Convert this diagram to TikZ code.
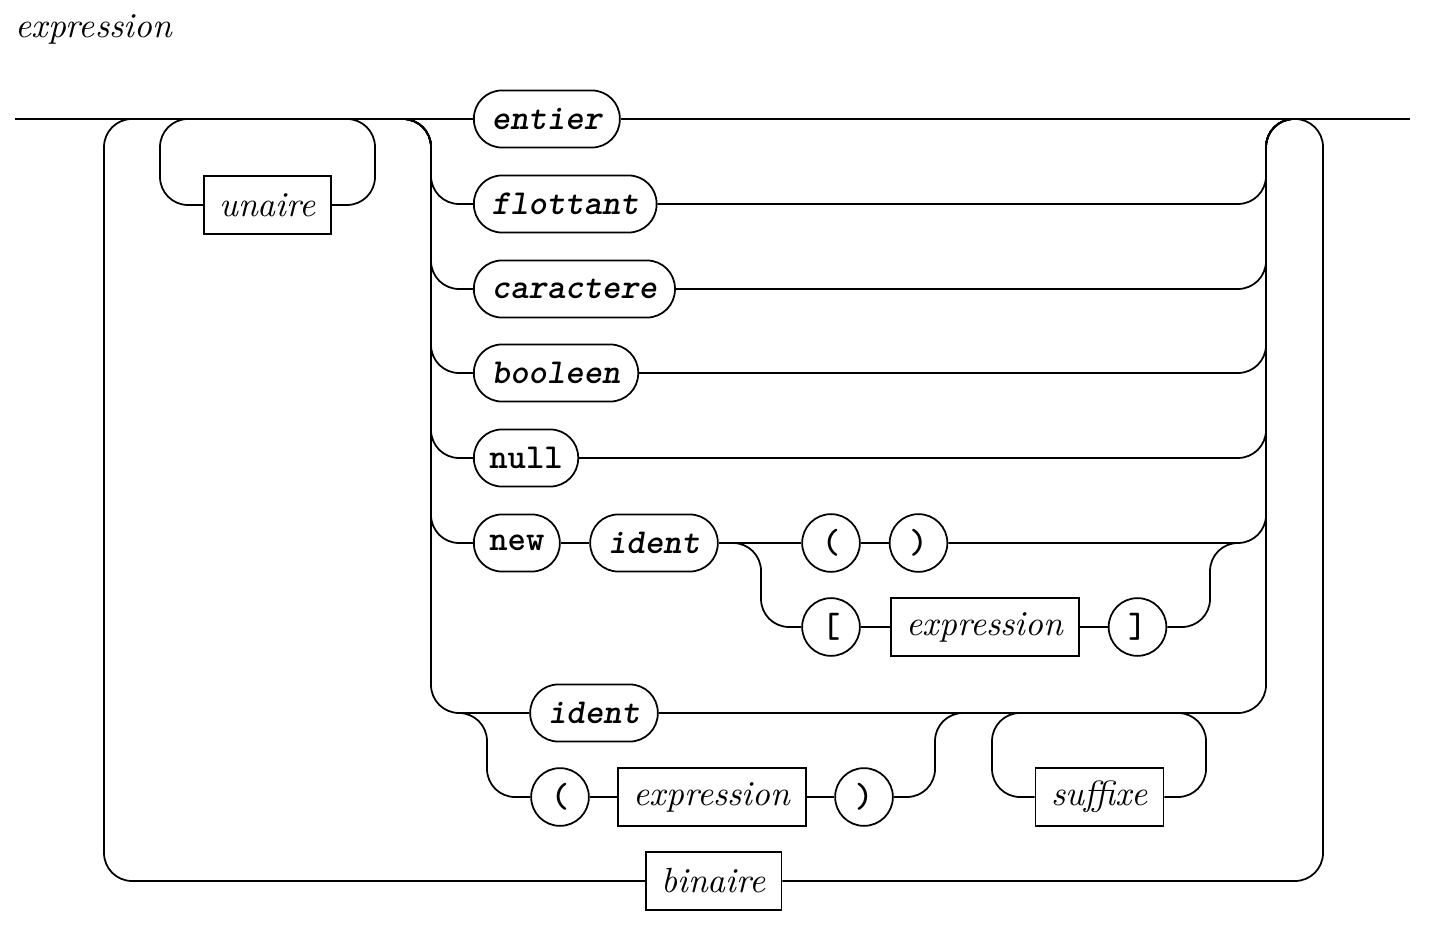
\documentclass[tikz,border=0pt]{standalone}
\usetikzlibrary{positioning}

\tikzset{
  nonterm/.style={draw, rectangle, line width=0.5pt, minimum height=16.5pt, inner xsep=4.5pt, font=\itshape},
  term/.style={draw, rectangle, line width=0.5pt, rounded corners=8pt, minimum height=16.3pt, inner xsep=5.1pt, font=\ttfamily\bfseries\slshape},
  termup/.style={term, inner xsep=4.4pt, font=\ttfamily\bfseries},
  sym/.style={draw, circle, line width=0.5pt, minimum size=16.5pt, inner sep=0pt, font=\ttfamily\bfseries},
  rail/.style={line width=0.5pt, rounded corners=8pt},
}

\begin{document}
\begin{tikzpicture}[x=0.2857pt, y=-0.2857pt]
\useasboundingbox (0,0) rectangle (1432,932);
% title
\node[anchor=base west, inner sep=0pt, font=\itshape] (title) at (15,38) {expression};
% alternatives
\node[term, anchor=west] (entier) at (473,119) {entier};
\node[term, anchor=west] (flottant) at (473,204) {flottant};
\node[term, anchor=west] (caractere) at (473,289) {caractere};
\node[term, anchor=west] (booleen) at (473,373) {booleen};
\node[termup, anchor=west] (null) at (473,458) {null};
\node[termup, anchor=west] (new) at (473,543) {new};
\node[term] (identA) at (654,543) {ident};
\node[sym] (lpA) at (831,543) {(};
\node[sym] (rpA) at (918.5,543) {)};
\node[sym] (lb) at (831,627) {[};
\node[nonterm] (exprA) at (985,627) {expression};
\node[sym] (rb) at (1137.5,627) {]};
\node[term] (identB) at (594,713) {ident};
\node[sym] (lpB) at (560,797) {(};
\node[nonterm] (exprB) at (712,797) {expression};
\node[sym] (rpB) at (864,797) {)};
\node[nonterm] (suffixe) at (1099.5,797) {suffixe};
\node[nonterm] (unaire) at (267.5,205) {unaire};
\node[nonterm] (binaire) at (713.5,881) {binaire};
% junctions
\coordinate (forkL) at (403,119);
\coordinate (forkX) at (431,0);
\coordinate (joinR) at (1294,119);

% main line
\draw[rail] (15,119) -- (entier.west);
\draw[rail] (entier.east) -- (1410,119);
% loop with binaire
\draw[rail] (132,119) -| (104,881) -- (binaire.west);
\draw[rail] (binaire.east) -| (1323,119) -- (joinR);
% loop with unaire
\draw[rail] (188,119) -| (160,205) -- (unaire.west);
\draw[rail] (unaire.east) -| (375,119) -- (347,119);
% branches
\foreach \n in {flottant,caractere,booleen,null,new,identB}
  \draw[rail] (forkL) -| (\n.west -| forkX) -- (\n.west);
\foreach \n in {flottant,caractere,booleen,null,rpA,identB}
  \draw[rail] (\n.east) -| (1266,119) -- (joinR);
% new ident ( ) / [ expression ]
\draw[rail] (new.east) -- (identA.west);
\draw[rail] (identA.east) -- (lpA.west);
\draw[rail] (lpA.east) -- (rpA.west);
\draw[rail] (733,543) -| (761,627) -- (lb.west);
\draw[rail] (lb.east) -- (exprA.west);
\draw[rail] (exprA.east) -- (rb.west);
\draw[rail] (rb.east) -| (1210,543) -- (1238,543);
% ident / ( expression ) with suffixe
\draw[rail] (459,713) -| (487,797) -- (lpB.west);
\draw[rail] (lpB.east) -- (exprB.west);
\draw[rail] (exprB.east) -- (rpB.west);
\draw[rail] (rpB.east) -| (935,713) -- (963,713);
\draw[rail] (1020,713) -| (992,797) -- (suffixe.west);
\draw[rail] (suffixe.east) -| (1206,713) -- (1178,713);
\end{tikzpicture}
\end{document}
